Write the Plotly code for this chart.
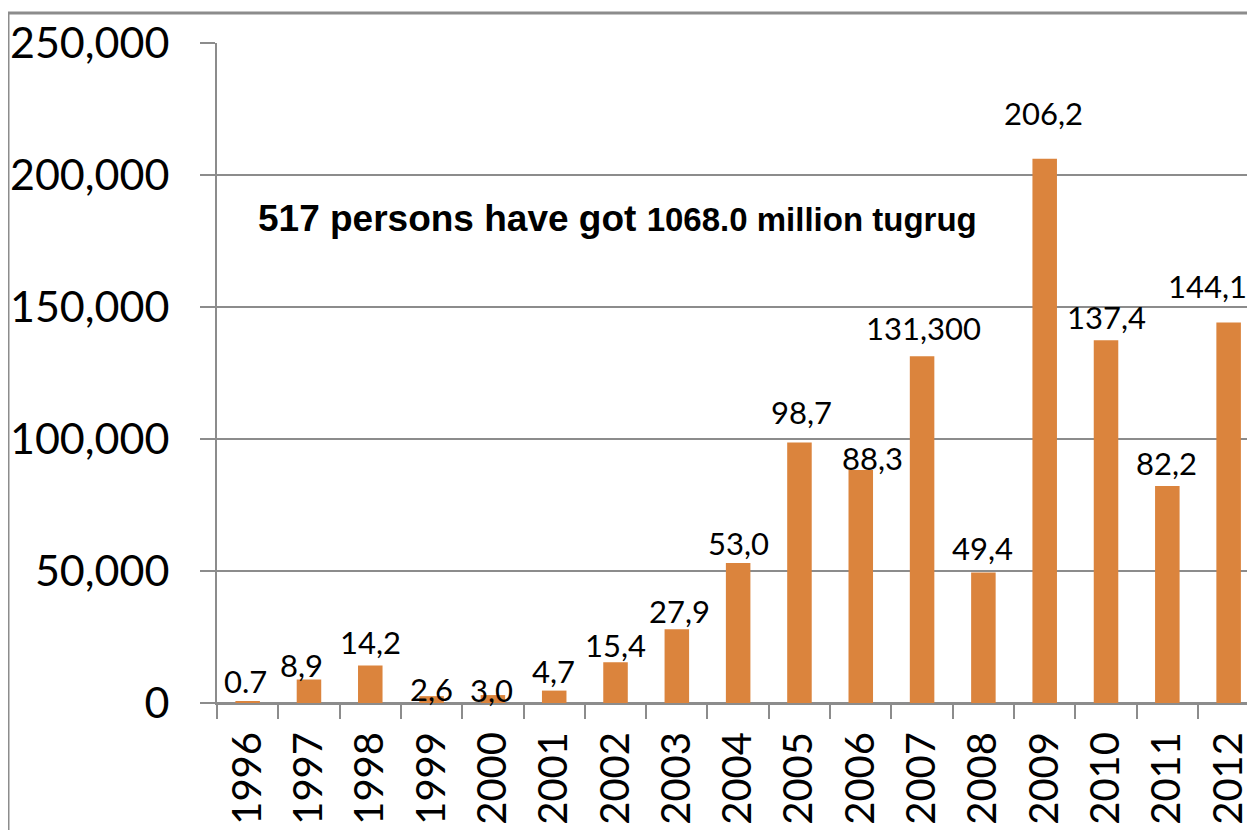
import plotly.graph_objects as go

# data
years = ["1996", "1997", "1998", "1999", "2000", "2001", "2002", "2003", "2004",
         "2005", "2006", "2007", "2008", "2009", "2010", "2011", "2012"]
amounts = [700, 8900, 14200, 2600, 3000, 4700, 15400, 27900, 53000,
           98700, 88300, 131300, 49400, 206200, 137400, 82200, 144100]
label_text = ["0.7", "8,9", "14,2", "2,6", "3,0", "4,7", "15,4", "27,9", "53,0",
              "98,7", "88,3", "131,300", "49,4", "206,2", "137,4", "82,2", "144,1"]
y_ticks = [0, 50000, 100000, 150000, 200000, 250000]
note_a = "517 persons have got"
note_b = "1068.0 million tugrug"

# how far (px) each Excel label sits from its bar top, and sideways nudges
label_lift = [20, 15, 24, 7, 5, 20, 17, 18, 20, 30, 12, 28, 25, 46, 23, 23, 37]
label_nudge = [-2, -7, 0, 0, -1, -1, 0, 3, 0, 2, 12, 1, -1, -1, 0, -1, -21]

BAR = "#DB843D"
GRID = "#8C8C8C"
# page body has an 8px margin, so the figure starts at (8, 8) in the window
W, H = 1247, 822
L, R, T, B = 209, 0, 35, 127

fig = go.Figure(go.Bar(
    x=years,
    y=amounts,
    marker=dict(color=BAR, line=dict(width=0)),
    hoverinfo="x+y",
))

annotations = []
for i, (val, txt, lift, dx) in enumerate(zip(amounts, label_text, label_lift, label_nudge)):
    annotations.append(dict(
        x=i, y=val, xref="x", yref="y",
        text=txt, showarrow=False,
        yanchor="middle", xanchor="center",
        yshift=lift, xshift=dx,
        font=dict(family="Lato", size=31, color="black"),
    ))

pw = W - L - R
ph = H - T - B
annotations.append(dict(
    x=(609 - L) / pw, y=(H - B - 210) / ph,
    xref="paper", yref="paper",
    text="<b>" + note_a + " <span style='font-size:33px'>" + note_b + "</span></b>",
    showarrow=False,
    xanchor="center", yanchor="middle",
    font=dict(family="Liberation Sans", size=37, color="black"),
))

bx = (0 - L) / pw
by = 1 + (T - 5) / ph

fig.update_layout(
    width=W, height=H,
    margin=dict(l=L, r=R, t=T, b=B, pad=0),
    plot_bgcolor="white",
    paper_bgcolor="white",
    showlegend=False,
    bargap=0.6,
    annotations=annotations,
    shapes=[
        dict(type="line", xref="paper", yref="paper", x0=bx, x1=bx, y0=-0.5, y1=by,
             line=dict(color=GRID, width=3)),
        dict(type="line", xref="paper", yref="paper", x0=bx, x1=1.2, y0=by, y1=by,
             line=dict(color=GRID, width=3)),
    ],
)

fig.update_xaxes(
    type="category",
    range=[-0.5, 16.43],
    tickangle=-90,
    tickfont=dict(family="Lato", size=40, color="black"),
    ticks="outside", tickson="boundaries", ticklen=14, tickwidth=2, tickcolor=GRID,
    showline=True, linecolor=GRID, linewidth=2,
    showgrid=False,
    ticklabelstandoff=11,
)
fig.update_yaxes(
    range=[0, 250000],
    tickvals=y_ticks,
    tickformat=",d",
    tickfont=dict(family="Lato", size=43, color="black"),
    ticks="outside", ticklen=15, tickwidth=2, tickcolor=GRID,
    showline=True, linecolor=GRID, linewidth=2,
    showgrid=True, gridcolor=GRID, gridwidth=2,
    zeroline=True, zerolinecolor=GRID, zerolinewidth=2,
    ticklabelstandoff=22,
)

fig.write_html("out.html")
